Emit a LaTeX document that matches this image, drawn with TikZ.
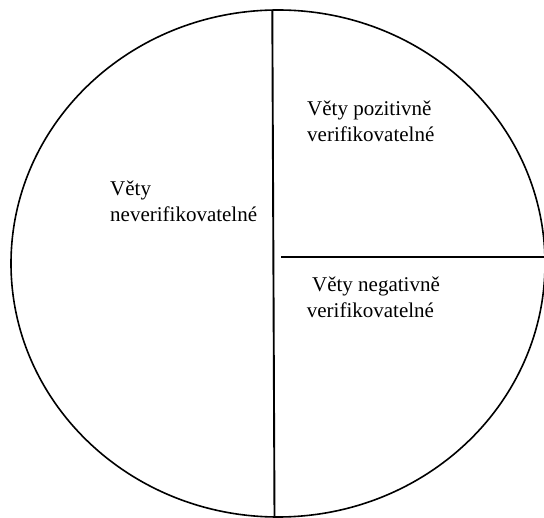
\documentclass[tikz,border=0pt]{standalone}
\usepackage{fontspec}
\setmainfont{Liberation Serif}
\begin{document}
\begin{tikzpicture}[x=1pt,y=-1pt,
  outline/.style={line width=1.6pt,black},
  divider/.style={line width=1.9pt,black},
  label/.style={anchor=base west,inner sep=0pt,align=left,
    font=\fontsize{21}{26}\selectfont}]
\useasboundingbox (0,0) rectangle (544,518);
\clip (0,0) rectangle (544,518);
\draw[outline] (278,263.5) ellipse [x radius=267pt, y radius=253.5pt];
\coordinate (vtop) at (272.3,10.2);
\coordinate (vbot) at (274.5,517);
\coordinate (hleft) at (281,257);
\coordinate (hright) at (546,257);
\draw[divider] (vtop) -- (vbot);
\draw[divider] (hleft) -- (hright);
\node[label] (never) at (110,221.7) {Věty\\neverifikovatelné};
\node[label] (pos) at (307,141.7) {Věty pozitivně\\verifikovatelné};
\node[label] (neg) at (306.7,318) {\ Věty negativně\\verifikovatelné};
\end{tikzpicture}
\end{document}
